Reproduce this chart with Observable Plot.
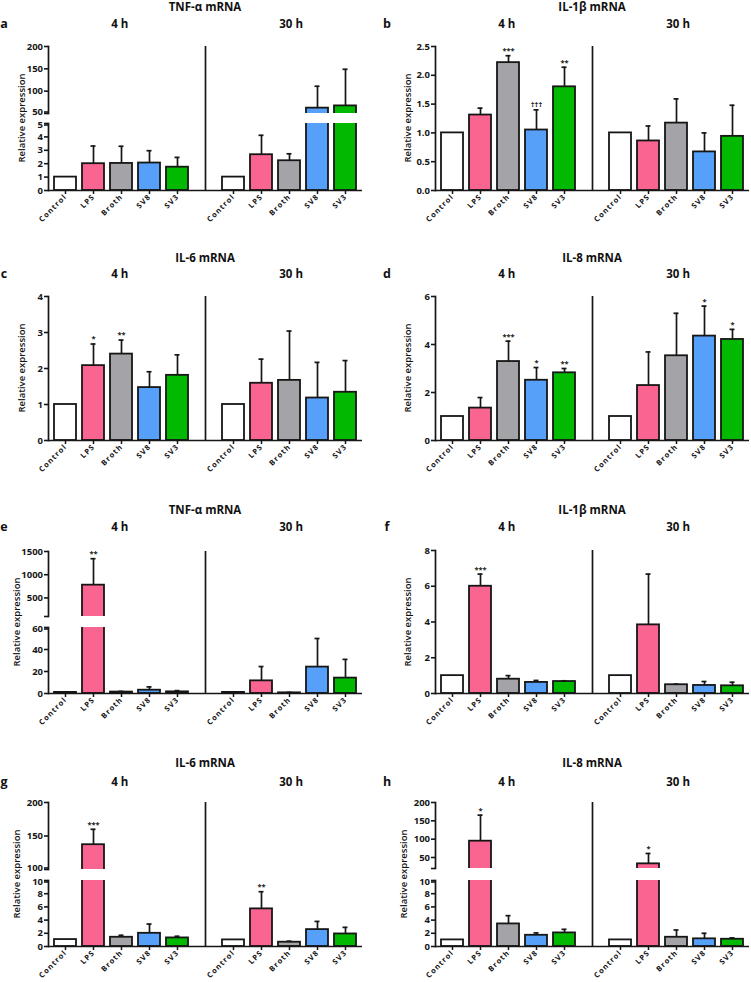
<!DOCTYPE html>
<html><head><meta charset="utf-8">
<script src="https://cdn.jsdelivr.net/npm/d3@7"></script>
<script src="https://cdn.jsdelivr.net/npm/@observablehq/plot@0.6"></script>
<style>
body{margin:0;background:#fff;}
#root{position:relative;width:751px;height:982px;font-family:"Open Sans",sans-serif;overflow:hidden;color:#111;background:#fff}
.lbl{position:absolute;transform:translate(-50%,-50%);white-space:nowrap;font-weight:700;line-height:1}
.ylab{position:absolute;transform:translate(-50%,-50%) rotate(-90deg);white-space:nowrap;font-weight:600;font-size:9.5px;line-height:1}
.seg{position:absolute}
</style></head><body><div id="root"></div>
<script>
// ---------- data ----------
const groups = ["Control", "LPS", "Broth", "SV8", "SV3"];
const times = ["4 h", "30 h"];
const fills = ["#ffffff", "#f96491", "#a3a3a8", "#56a0fa", "#00b900"];
const titles = ["TNF-α mRNA", "IL-1β mRNA", "IL-6 mRNA", "IL-8 mRNA", "TNF-α mRNA", "IL-1β mRNA", "IL-6 mRNA", "IL-8 mRNA"];
const letters = ["a", "b", "c", "d", "e", "f", "g", "h"];

// values: first five = 4 h, last five = 30 h (Control, LPS, Broth, SV8, SV3)
const meanA = [1, 2.0, 2.02, 2.05, 1.74, 1, 2.67, 2.22, 62, 67];
const errA  = [null, 3.32, 3.3, 2.97, 2.47, null, 4.12, 2.74, 111, 149];
const sigA  = ["", "", "", "", "", "", "", "", "", ""];

const meanB = [1.0, 1.31, 2.22, 1.05, 1.80, 1.0, 0.86, 1.17, 0.67, 0.94];
const errB  = [null, 1.43, 2.34, 1.40, 2.14, null, 1.12, 1.59, 1.0, 1.48];
const sigB  = ["", "", "***", "†††", "**", "", "", "", "", ""];

const meanC = [1, 2.08, 2.40, 1.47, 1.81, 1, 1.59, 1.67, 1.18, 1.34];
const errC  = [null, 2.68, 2.79, 1.91, 2.38, null, 2.26, 3.04, 2.17, 2.22];
const sigC  = ["", "*", "**", "", "", "", "", "", "", ""];

const meanD = [1, 1.35, 3.29, 2.51, 2.82, 1, 2.29, 3.53, 4.35, 4.21];
const errD  = [null, 1.79, 4.14, 3.04, 3.0, null, 3.69, 5.30, 5.6, 4.63];
const sigD  = ["", "", "***", "*", "**", "", "", "", "*", "*"];

const meanE = [1, 775, 1.3, 3, 1.5, 1, 11.5, 0.6, 24, 14];
const errE  = [null, 1345, 1.9, 6, 2.6, null, 24.5, 1.0, 50, 31];
const sigE  = ["", "**", "", "", "", "", "", "", "", ""];

const meanF = [1, 6.0, 0.80, 0.62, 0.67, 1, 3.84, 0.49, 0.45, 0.43];
const errF  = [null, 6.68, 1.0, 0.73, 0.71, null, 6.68, 0.52, 0.67, 0.63];
const sigF  = ["", "***", "", "", "", "", "", "", "", ""];

const meanG = [1.05, 137, 1.4, 2.0, 1.3, 1, 5.7, 0.65, 2.56, 1.9];
const errG  = [null, 160, 1.7, 3.4, 1.55, null, 8.3, 0.8, 3.8, 2.9];
const sigG  = ["", "***", "", "", "", "", "**", "", "", ""];

const meanH = [1, 94.5, 3.42, 1.7, 2.06, 1, 32.7, 1.4, 1.16, 1.1];
const errH  = [null, 165.5, 4.67, 2.06, 2.6, null, 61, 2.5, 2.0, 1.3];
const sigH  = ["", "*", "", "", "", "", "*", "", "", ""];

// y-axis tick values per axis segment (upper segment first)
const ticksA = [[50, 100, 150, 200], [0, 1, 2, 3, 4, 5]];
const ticksB = [[0, 0.5, 1, 1.5, 2, 2.5]];
const ticksC = [[0, 1, 2, 3, 4]];
const ticksD = [[0, 2, 4, 6]];
const ticksE = [[100, 500, 1000, 1500], [0, 20, 40, 60]];
const ticksF = [[0, 2, 4, 6, 8]];
const ticksG = [[100, 150, 200], [0, 2, 4, 6, 8, 10]];
const ticksH = [[20, 50, 100, 150, 200], [0, 2, 4, 6, 8, 10]];
const unlabeledE = [100];
const unlabeledH = [20];

// ---------- layout ----------
const panels = [
  {mean: meanA, err: errA, sig: sigA, ticks: ticksA, hidden: [], fmt: "d"},
  {mean: meanB, err: errB, sig: sigB, ticks: ticksB, hidden: [], fmt: ".1f"},
  {mean: meanC, err: errC, sig: sigC, ticks: ticksC, hidden: [], fmt: "d"},
  {mean: meanD, err: errD, sig: sigD, ticks: ticksD, hidden: [], fmt: "d"},
  {mean: meanE, err: errE, sig: sigE, ticks: ticksE, hidden: unlabeledE, fmt: "d"},
  {mean: meanF, err: errF, sig: sigF, ticks: ticksF, hidden: [], fmt: "d"},
  {mean: meanG, err: errG, sig: sigG, ticks: ticksG, hidden: [], fmt: "d"},
  {mean: meanH, err: errH, sig: sigH, ticks: ticksH, hidden: unlabeledH, fmt: "d"}
];
const layout = [
  {x0: 0,   ml: 48, segs: [{top: 46, bottom: 113}, {top: 123, bottom: 190}]},
  {x0: 375, ml: 60, segs: [{top: 46, bottom: 190}]},
  {x0: 0,   ml: 48, segs: [{top: 296, bottom: 440}]},
  {x0: 375, ml: 60, segs: [{top: 296, bottom: 440}]},
  {x0: 0,   ml: 48, segs: [{top: 551, bottom: 616}, {top: 627, bottom: 693}]},
  {x0: 375, ml: 60, segs: [{top: 550, bottom: 693}]},
  {x0: 0,   ml: 48, segs: [{top: 802, bottom: 869}, {top: 880, bottom: 946}]},
  {x0: 375, ml: 60, segs: [{top: 802, bottom: 868}, {top: 880, bottom: 946}]}
];
const rowTitleY = [7, 258, 510, 763];
const rowSubY = [24, 274, 527, 782];
const ylabX = [[22, 408], [22, 408], [17, 408], [17, 404]];
const slotW = 314;
const slots = d3.range(11);
const ink = "#161616";

const root = document.getElementById("root");
function addLabel(text, x, y, size, cls = "lbl") {
  const d = document.createElement("div");
  d.className = cls;
  d.textContent = text;
  d.style.left = x + "px";
  d.style.top = y + "px";
  if (size) d.style.fontSize = size + "px";
  root.appendChild(d);
}

panels.forEach((panel, p) => {
  const lay = layout[p];
  const col = p % 2, row = Math.floor(p / 2);
  const rows = panel.mean.map((m, i) => ({
    slot: i < 5 ? i : i + 1,
    group: groups[i % 5],
    time: times[i < 5 ? 0 : 1],
    mean: m,
    err: panel.err[i],
    sig: panel.sig[i]
  }));
  const fmt = d3.format(panel.fmt);
  const broken = lay.segs.length > 1;
  lay.segs.forEach((seg, s) => {
    const ticks = panel.ticks[s];
    const lo = ticks[0], hi = ticks[ticks.length - 1];
    const isBottom = s === lay.segs.length - 1;
    const mt = s > 0 ? seg.top - lay.segs[s - 1].bottom : 12;
    const mb = isBottom ? 40 : 2;
    const height = seg.bottom - seg.top + mt + mb;
    const inSeg = v => v != null && v >= lo && v <= hi;
    // labels at the axis break are nudged apart
    const edge = broken ? (isBottom ? hi : lo) : null;
    const axisStyle = {tickSize: 4, tickPadding: 1.5, fontSize: 9.5, fontWeight: "bold", label: null, stroke: ink, strokeWidth: 1.6, fill: ink};
    const marks = [
      Plot.barY(rows.filter(d => d.mean > lo), {x: "slot", y1: 0, y2: "mean", fill: "group", stroke: ink, strokeWidth: 1.8, clip: true}),
      Plot.ruleX(rows.filter(d => d.err != null && d.err > lo), {x: "slot", y1: "mean", y2: "err", stroke: ink, strokeWidth: 1.7, clip: true}),
      Plot.tickY(rows.filter(d => inSeg(d.err)), {x: "slot", y: "err", stroke: ink, strokeWidth: 1.7, insetLeft: 8.5, insetRight: 8.5}),
      Plot.text(rows.filter(d => d.sig && inSeg(d.err)), {x: "slot", y: "err", text: "sig", dy: -5, fontSize: 7.5, fontWeight: "bold", fill: ink}),
      Plot.ruleX([5], {x: d => d, stroke: ink, strokeWidth: 1.7, insetTop: s > 0 ? -mt : 0}),
      Plot.frame({anchor: "left", stroke: ink, strokeWidth: 1.7}),
      Plot.axisY({...axisStyle, ticks, tickFormat: d => (panel.hidden.includes(d) || d === edge) ? "" : fmt(d)})
    ];
    if (edge !== null && !panel.hidden.includes(edge)) {
      marks.push(Plot.axisY({...axisStyle, ticks: [edge], tickFormat: fmt, dy: isBottom ? 1.5 : -1.5}));
    }
    if (isBottom) {
      marks.push(Plot.ruleY([lo], {stroke: ink, strokeWidth: 1.7}));
      marks.push(Plot.axisX({ticks: [0, 1, 2, 3, 4, 6, 7, 8, 9, 10], tickFormat: i => groups[i < 5 ? i : i - 6],
        tickRotate: -45, tickSize: 4, tickPadding: 1, fontSize: 7.5, fontWeight: "bold", label: null,
        stroke: ink, strokeWidth: 1.5, fill: ink}));
    }
    const chart = Plot.plot({
      width: 376, height,
      marginLeft: lay.ml, marginRight: 376 - lay.ml - slotW, marginTop: mt, marginBottom: mb,
      x: {type: "band", domain: slots, paddingInner: 0.2, paddingOuter: 0.1, axis: null},
      y: {domain: [lo, hi], axis: null},
      color: {domain: groups, range: fills},
      style: {background: "transparent", overflow: "visible", fontFamily: "Open Sans", color: "#111"},
      marks
    });
    // spaced-out category labels, as in the reference
    chart.querySelectorAll("text").forEach(t => {
      if (groups.includes(t.textContent)) t.style.letterSpacing = "1.1px";
    });
    chart.classList.add("seg");
    chart.style.left = lay.x0 + "px";
    chart.style.top = (seg.top - mt) + "px";
    root.appendChild(chart);
  });
  // texts
  const sx = lay.x0 + lay.ml;
  const step = slotW / 11;
  addLabel(titles[p], sx + slotW / 2, rowTitleY[row], 11.5);
  addLabel(letters[p], col ? 387 : 4, rowSubY[row], 12.5);
  addLabel(times[0], sx + step * 2.5 + 0.5, rowSubY[row], 11.5);
  addLabel(times[1], sx + step * 8.5 + 0.5, rowSubY[row], 11.5);
  const top = lay.segs[0].top, bottom = lay.segs[lay.segs.length - 1].bottom;
  addLabel("Relative expression", ylabX[row][col], (top + bottom) / 2, null, "ylab");
});
</script></body></html>
